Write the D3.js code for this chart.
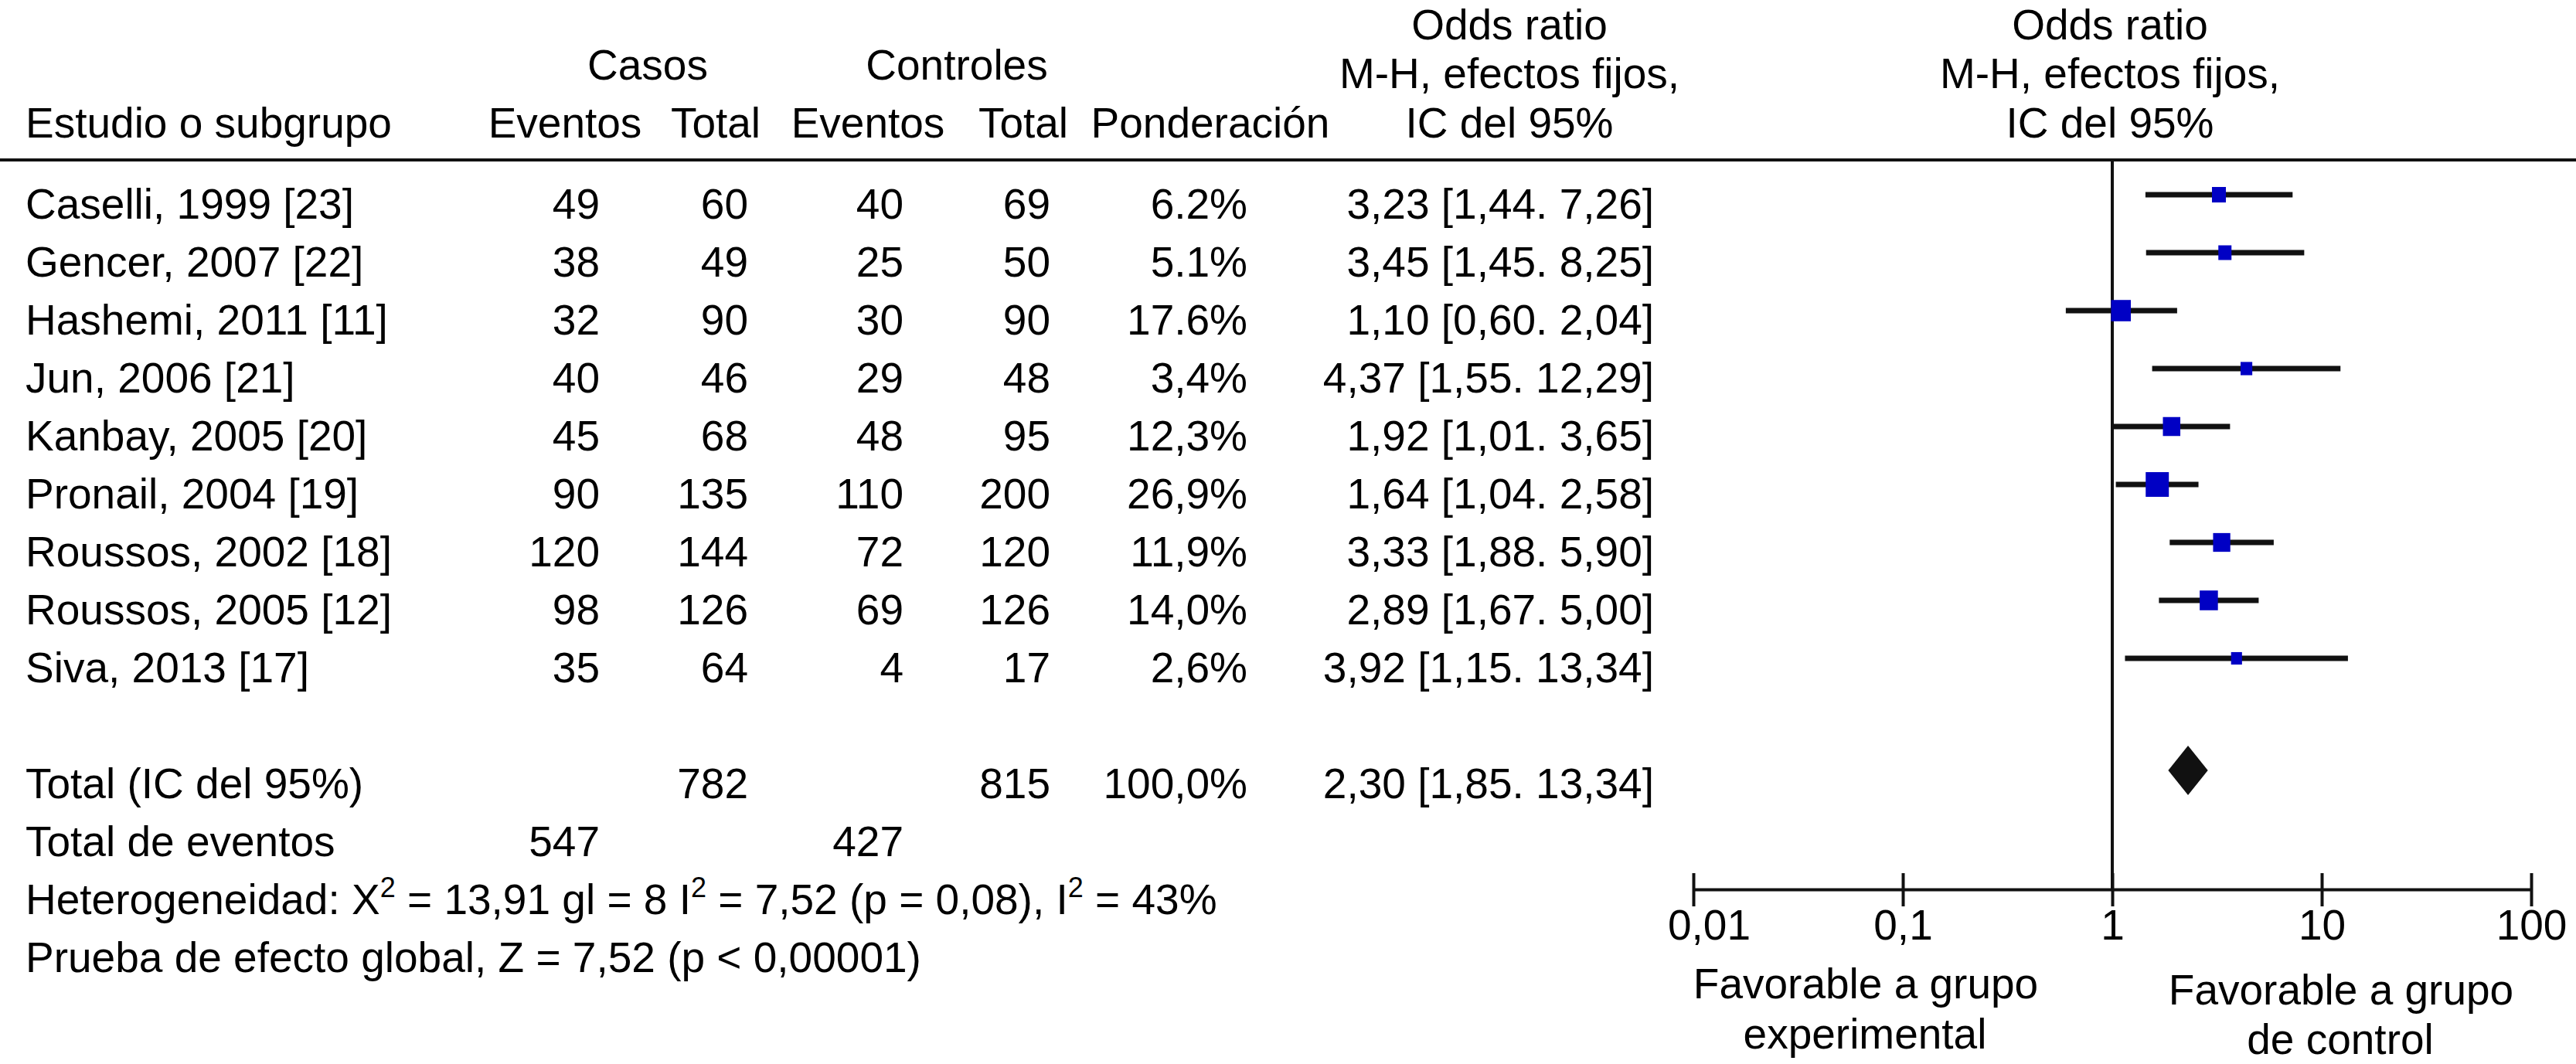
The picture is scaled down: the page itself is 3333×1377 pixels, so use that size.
<!DOCTYPE html>
<html>
<head>
<meta charset="utf-8">
<script src="https://cdn.jsdelivr.net/npm/d3@7"></script>
<style>
  body { margin: 0; background: #fff; }
  svg text { font-family: "Liberation Sans", Arial, Helvetica, sans-serif; font-size: 55px; fill: #000; }
</style>
</head>
<body>
<svg id="chart" width="3333" height="1377"></svg>
<script>
// Study data
var studies = ["Caselli, 1999 [23]", "Gencer, 2007 [22]", "Hashemi, 2011 [11]", "Jun, 2006 [21]", "Kanbay, 2005 [20]",
    "Pronail, 2004 [19]", "Roussos, 2002 [18]", "Roussos, 2005 [12]", "Siva, 2013 [17]"]
var casosEventos = [49, 38, 32, 40, 45, 90, 120, 98, 35]
var casosTotal = [60, 49, 90, 46, 68, 135, 144, 126, 64]
var controlesEventos = [40, 25, 30, 29, 48, 110, 72, 69, 4]
var controlesTotal = [69, 50, 90, 48, 95, 200, 120, 126, 17]
var ponderacion = [6.2, 5.1, 17.6, 3.4, 12.3, 26.9, 11.9, 14.0, 2.6]
var ponderacionLabels = ["6.2%", "5.1%", "17.6%", "3,4%", "12,3%", "26,9%", "11,9%", "14,0%", "2,6%"]
var oddsRatio = [3.23, 3.45, 1.10, 4.37, 1.92, 1.64, 3.33, 2.89, 3.92]
var ciLow = [1.44, 1.45, 0.60, 1.55, 1.01, 1.04, 1.88, 1.67, 1.15]
var ciHigh = [7.26, 8.25, 2.04, 12.29, 3.65, 2.58, 5.90, 5.00, 13.34]

// Pooled result
var totalOR = 2.30
var totalLow = 1.85
var totalHigh = 2.86
var totalLabel = "2,30 [1,85. 13,34]"
var totalCasos = 782
var totalControles = 815
var totalPonderacion = "100,0%"
var eventosCasos = 547
var eventosControles = 427

var axisTicks = [0.01, 0.1, 1, 10, 100]
var axisTickLabels = ["0,01", "0,1", "1", "10", "100"]

// Layout
var width = 3333
var rowStart = 283      // baseline of first study row
var rowStep = 75
var leftX = 33
var colRight = { casosEv: 776, casosTot: 968, ctrlEv: 1169, ctrlTot: 1359, pond: 1614, or: 2140 }
var axisY = 1151
var headerLineY = 207

var svg = d3.select("#chart")

function rowBase(i) { return rowStart + i * rowStep }
function comma(v) { return d3.format(".2f")(v).replace(".", ",") }

var x = d3.scaleLog()
    .domain([0.01, 100])
    .range([2191, 3275])

var boxSize = d3.scaleSqrt()
    .domain([0, 27])
    .range([7, 30])

// ---- header
var header = [
    { t: "Casos", x: 838, y: 103 },
    { t: "Controles", x: 1238, y: 103 },
    { t: "Eventos", x: 731, y: 178 },
    { t: "Total", x: 926, y: 178 },
    { t: "Eventos", x: 1123, y: 178 },
    { t: "Total", x: 1324, y: 178 },
    { t: "Ponderación", x: 1566, y: 178 },
    { t: "Odds ratio", x: 1953, y: 51 },
    { t: "M-H, efectos fijos,", x: 1953, y: 114 },
    { t: "IC del 95%", x: 1953, y: 178 },
    { t: "Odds ratio", x: 2730, y: 51 },
    { t: "M-H, efectos fijos,", x: 2730, y: 114 },
    { t: "IC del 95%", x: 2730, y: 178 }
]
svg.selectAll(".hdr")
    .data(header)
    .enter()
    .append("text")
    .attr("class", "hdr")
    .attr("x", function (d) { return d.x })
    .attr("y", function (d) { return d.y })
    .attr("text-anchor", "middle")
    .text(function (d) { return d.t })

svg.append("text").attr("x", leftX).attr("y", 178).text("Estudio o subgrupo")

svg.append("line")
    .attr("x1", 0).attr("x2", width)
    .attr("y1", headerLineY).attr("y2", headerLineY)
    .attr("stroke", "#111").attr("stroke-width", 4)

// ---- table rows
var rows = studies.map(function (s, i) {
    return {
        name: s, ce: casosEventos[i], ct: casosTotal[i], ke: controlesEventos[i], kt: controlesTotal[i],
        w: ponderacion[i], wl: ponderacionLabels[i], or: oddsRatio[i], lo: ciLow[i], hi: ciHigh[i], i: i
    }
})

var rowG = svg.selectAll(".row")
    .data(rows)
    .enter()
    .append("g")
    .attr("class", "row")
    .attr("transform", function (d) { return "translate(0," + rowBase(d.i) + ")" })

rowG.append("text").attr("x", leftX).text(function (d) { return d.name })
rowG.append("text").attr("x", colRight.casosEv).attr("text-anchor", "end").text(function (d) { return d.ce })
rowG.append("text").attr("x", colRight.casosTot).attr("text-anchor", "end").text(function (d) { return d.ct })
rowG.append("text").attr("x", colRight.ctrlEv).attr("text-anchor", "end").text(function (d) { return d.ke })
rowG.append("text").attr("x", colRight.ctrlTot).attr("text-anchor", "end").text(function (d) { return d.kt })
rowG.append("text").attr("x", colRight.pond).attr("text-anchor", "end").text(function (d) { return d.wl })
rowG.append("text").attr("x", colRight.or).attr("text-anchor", "end")
    .text(function (d) { return comma(d.or) + " [" + comma(d.lo) + ". " + comma(d.hi) + "]" })

// ---- totals
var tb = rowBase(10)
svg.append("text").attr("x", leftX).attr("y", tb).text("Total (IC del 95%)")
svg.append("text").attr("x", colRight.casosTot).attr("y", tb).attr("text-anchor", "end").text(totalCasos)
svg.append("text").attr("x", colRight.ctrlTot).attr("y", tb).attr("text-anchor", "end").text(totalControles)
svg.append("text").attr("x", colRight.pond).attr("y", tb).attr("text-anchor", "end").text(totalPonderacion)
svg.append("text").attr("x", colRight.or).attr("y", tb).attr("text-anchor", "end").text(totalLabel)

var eb = rowBase(11)
svg.append("text").attr("x", leftX).attr("y", eb).text("Total de eventos")
svg.append("text").attr("x", colRight.casosEv).attr("y", eb).attr("text-anchor", "end").text(eventosCasos)
svg.append("text").attr("x", colRight.ctrlEv).attr("y", eb).attr("text-anchor", "end").text(eventosControles)

// heterogeneity line with superscripts
var het = svg.append("text").attr("x", leftX).attr("y", rowBase(12))
var hetParts = [["Heterogeneidad: X", 0], ["2", 1], [" = 13,91 gl = 8 I", 0], ["2", 1], [" = 7,52 (p = 0,08), I", 0], ["2", 1], [" = 43%", 0]]
hetParts.forEach(function (p, k) {
    var shift = 0
    if (p[1]) shift = -22
    else if (k > 0) shift = 22
    het.append("tspan")
        .attr("dy", shift)
        .style("font-size", p[1] ? "36px" : "55px")
        .text(p[0])
})

svg.append("text").attr("x", leftX).attr("y", rowBase(13)).text("Prueba de efecto global, Z = 7,52 (p < 0,00001)")

// ---- forest plot
svg.append("line")
    .attr("x1", x(1)).attr("x2", x(1))
    .attr("y1", headerLineY).attr("y2", axisY)
    .attr("stroke", "#111").attr("stroke-width", 4)

svg.selectAll(".ci")
    .data(rows)
    .enter()
    .append("line")
    .attr("class", "ci")
    .attr("x1", function (d) { return x(d.lo) })
    .attr("x2", function (d) { return x(d.hi) })
    .attr("y1", function (d) { return rowBase(d.i) - 31 })
    .attr("y2", function (d) { return rowBase(d.i) - 31 })
    .attr("stroke", "#111")
    .attr("stroke-width", 7)

svg.selectAll(".box")
    .data(rows)
    .enter()
    .append("rect")
    .attr("class", "box")
    .attr("x", function (d) { return x(d.or) - boxSize(d.w) / 2 })
    .attr("y", function (d) { return rowBase(d.i) - 31 - boxSize(d.w) / 2 - 1 })
    .attr("width", function (d) { return boxSize(d.w) })
    .attr("height", function (d) { return boxSize(d.w) + 2 })
    .attr("fill", "#0000c4")

// pooled diamond
var dy = rowBase(10) - 36
svg.append("path")
    .attr("d", "M" + x(totalLow) + "," + dy + "L" + x(totalOR) + "," + (dy - 32) +
        "L" + x(totalHigh) + "," + dy + "L" + x(totalOR) + "," + (dy + 32) + "Z")
    .attr("fill", "#111")

// axis
var axis = d3.axisBottom(x)
    .tickValues(axisTicks)
    .tickFormat(function (d, i) { return axisTickLabels[i] })
    .tickSizeOuter(0)

var gAxis = svg.append("g")
    .attr("transform", "translate(0," + axisY + ")")
    .call(axis)

gAxis.attr("font-size", null).attr("font-family", null)
gAxis.select(".domain").attr("stroke", "#111").attr("stroke-width", 4)
gAxis.selectAll(".tick line").attr("y1", -21).attr("y2", 22).attr("stroke", "#111").attr("stroke-width", 4)
gAxis.selectAll(".tick text")
    .attr("y", 65).attr("dy", 0)
    .attr("dx", function (d, i) { return i == 0 ? 20 : 0 })   // first label sits a little right of its tick
    .style("font-size", "55px")

var footer = [
    { t: "Favorable a grupo", x: 2414, y: 1292 },
    { t: "experimental", x: 2413, y: 1357 },
    { t: "Favorable a grupo", x: 3029, y: 1300 },
    { t: "de control", x: 3028, y: 1364 }
]
svg.selectAll(".ftr")
    .data(footer)
    .enter()
    .append("text")
    .attr("class", "ftr")
    .attr("x", function (d) { return d.x })
    .attr("y", function (d) { return d.y })
    .attr("text-anchor", "middle")
    .text(function (d) { return d.t })
</script>
</body>
</html>
